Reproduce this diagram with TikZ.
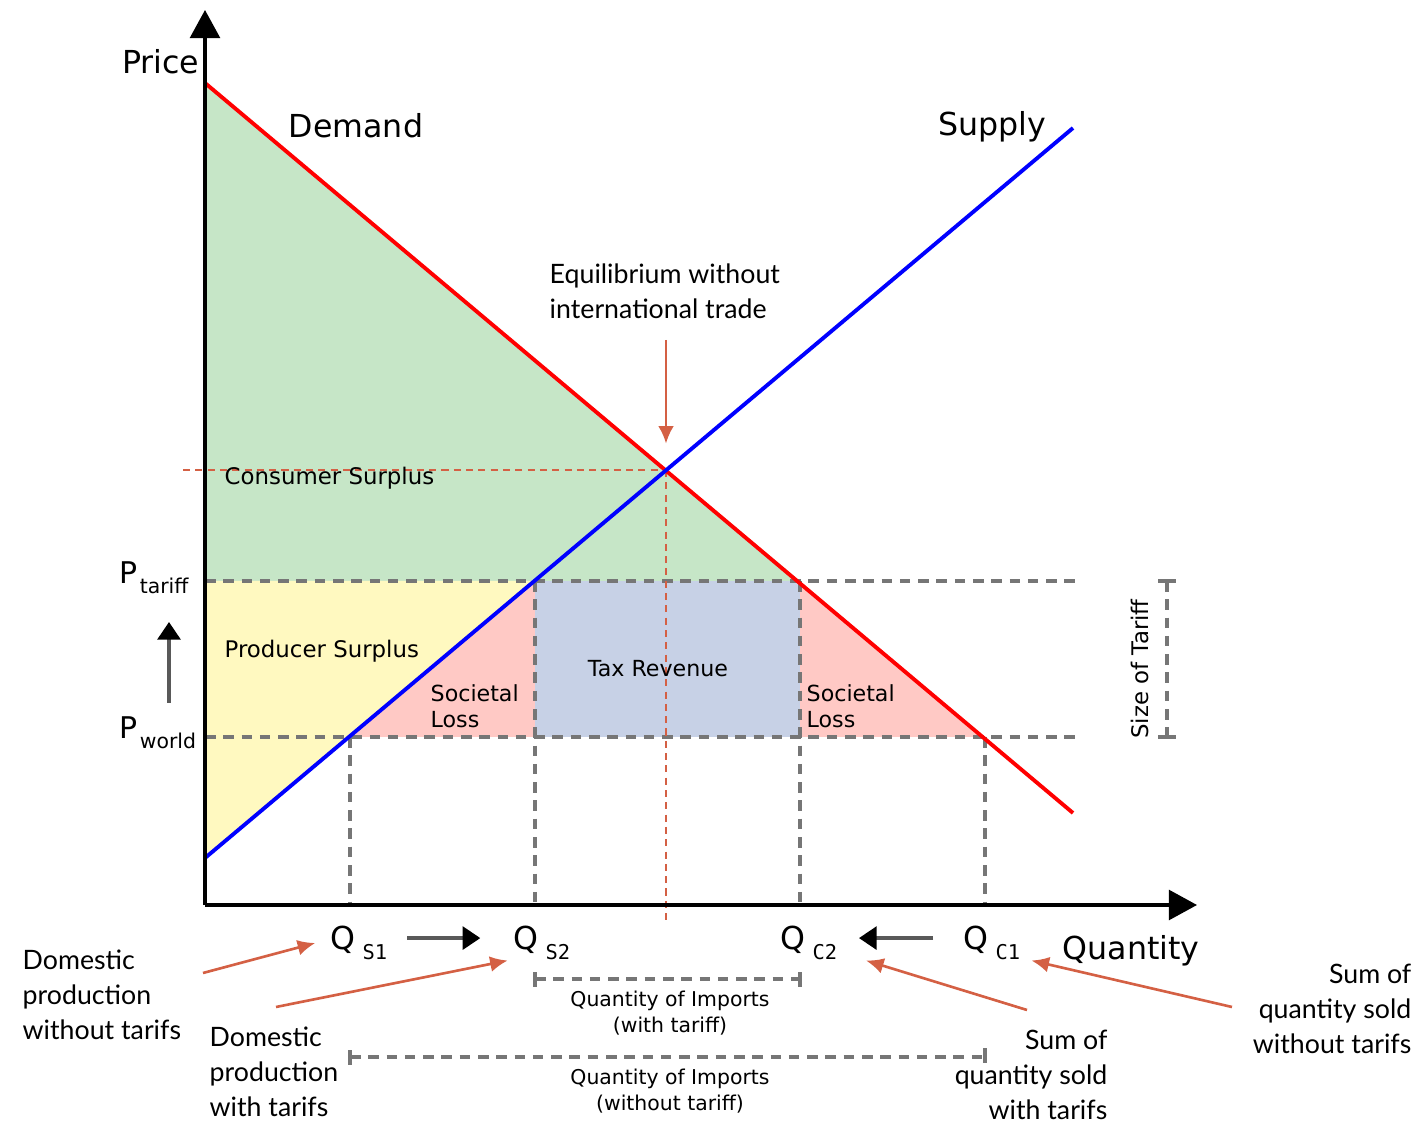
\documentclass[tikz,border=0pt]{standalone}
\usepackage{fontspec}
\setmainfont{DejaVu Sans}
\newfontfamily\notefont{Lato}
\newfontfamily\subfont{DejaVu Sans Mono}
\usetikzlibrary{arrows.meta,positioning}

\definecolor{csgreen}{RGB}{198,230,199}
\definecolor{psyellow}{RGB}{255,249,192}
\definecolor{losspink}{RGB}{255,201,197}
\definecolor{taxblue}{RGB}{199,209,230}
\definecolor{notered}{RGB}{212,96,68}
\definecolor{guidegray}{RGB}{118,118,118}

\newcommand{\bigtext}[1]{{\fontsize{9}{11}\selectfont #1}}
\newcommand{\Qlab}[1]{{\fontsize{9}{11}\selectfont Q}\hspace{2pt}\raisebox{-2.8pt}{\subfont\fontsize{5.8}{7}\selectfont #1}}
\newcommand{\Plab}[1]{{\fontsize{8.5}{10}\selectfont P}\hspace{0.6pt}\raisebox{-2.9pt}{\fontsize{5.8}{7}\selectfont #1}}

\begin{document}
\begin{tikzpicture}[x=0.01cm,y=-0.01cm,
    axis/.style={line width=0.9pt,-{Triangle[length=8pt,width=8.5pt]}},
    guide/.style={draw=guidegray,line width=1pt,dash pattern=on 3pt off 2.2pt},
    marker/.style={draw=notered,line width=0.4pt,dash pattern=on 2pt off 1.5pt},
    callout/.style={draw=notered,line width=0.75pt,-{Latex[length=5pt,width=4.5pt]}},
    shiftarrow/.style={draw=black!65,line width=0.9pt,-{Triangle[length=5pt,width=6.5pt,color=black]}},
    area/.style={inner sep=0pt,font=\fontsize{6.3}{7.4}\selectfont,align=left},
    note/.style={inner sep=0pt,font=\notefont\fontsize{7.6}{9.9}\selectfont}]
    \useasboundingbox (0,0) rectangle (1424,1122);

    % Key points
    \coordinate (O) at (205,905);
    \coordinate (E) at (666,470);
    \coordinate (A) at (350,737);
    \coordinate (B) at (535,581);
    \coordinate (C) at (800,581);
    \coordinate (F) at (985,737);

    % Surplus and loss areas
    \fill[csgreen] (205,83) -- (C) -- (205,581) -- cycle;
    \fill[psyellow] (205,581) -- (B) -- (205,858) -- cycle;
    \fill[losspink] (A) -- (B) -- (535,737) -- cycle;
    \fill[losspink] (C) -- (F) -- (800,737) -- cycle;
    \fill[taxblue] (B) rectangle (800,737);

    % Price levels and quantity drops
    \draw[guide] (205,581) -- (1075,581);
    \draw[guide] (205,737) -- (1075,737);
    \foreach \x in {535,800}
        \draw[guide] (\x,581) -- (\x,905);
    \foreach \x in {350,985}
        \draw[guide] (\x,737) -- (\x,905);

    % Equilibrium without trade
    \draw[marker] (183,470) -- (E);
    \draw[marker] (E) -- (666,925);

    % Demand and supply
    \draw[red,line width=1.1pt] (205,83) -- (1073,813);
    \draw[blue,line width=1.1pt] (205,858) -- (1073,128);

    % Axes
    \draw[axis] (O) -- (205,10);
    \draw[axis] (O) -- (1197,905);
    \node[inner sep=0pt,anchor=east] (price) at (200,62) {\bigtext{Price}};
    \node[inner sep=0pt] (qty) at (1131,951) {\bigtext{Quantity}};
    \node[inner sep=0pt] (dem) at (356,126) {\bigtext{Demand}};
    \node[inner sep=0pt] (sup) at (992,127) {\bigtext{Supply}};

    % Area labels
    \node[area,anchor=west,font=\fontsize{6.5}{7.5}\selectfont] (cs) at (224,478) {Consumer Surplus};
    \node[area,anchor=west,font=\fontsize{6.5}{7.5}\selectfont] (ps) at (224,651) {Producer Surplus};
    \node[area,anchor=west] (sl1) at (430,706) {Societal\\Loss};
    \node[area,anchor=west] (sl2) at (806,706) {Societal\\Loss};
    \node[area] (tax) at (658,669) {Tax Revenue};
    \node[area,rotate=90,font=\fontsize{6.5}{7.5}\selectfont] (size) at (1140,669) {Size of Tariff};

    % Size of tariff bracket
    \draw[guide] (1167,581) -- (1167,737);
    \draw[guidegray,line width=1pt] (1158,581) -- (1176,581) (1158,737) -- (1176,737);

    % Price and quantity labels
    \node[inner sep=0pt,anchor=west] (pt) at (119,578) {\Plab{tariff}};
    \node[inner sep=0pt,anchor=west] (pw) at (119,733) {\Plab{world}};
    \node[inner sep=0pt,anchor=west] (qs1) at (330,943) {\Qlab{S1}};
    \node[inner sep=0pt,anchor=west] (qs2) at (513,943) {\Qlab{S2}};
    \node[inner sep=0pt,anchor=west] (qc2) at (780,943) {\Qlab{C2}};
    \node[inner sep=0pt,anchor=west] (qc1) at (963,943) {\Qlab{C1}};

    % Shifts caused by the tariff
    \draw[shiftarrow] (169,703) -- (169,622);
    \draw[shiftarrow] ([shift={(5.5pt,1.4pt)}]qs1.east) -- ([shift={(-9.3pt,1.4pt)}]qs2.west);
    \draw[shiftarrow] ([shift={(-8.5pt,1.4pt)}]qc1.west) -- ([shift={(6pt,1.4pt)}]qc2.east);

    % Import brackets
    \draw[guide] (535,979) -- (800,979);
    \draw[guidegray,line width=1pt] (535,972) -- (535,987) (800,972) -- (800,987);
    \node[area,align=center,font=\fontsize{5.8}{7.4}\selectfont] (imp1) at (670,1013) {Quantity of Imports\\(with tariff)};
    \draw[guide] (350,1057) -- (985,1057);
    \draw[guidegray,line width=1pt] (350,1050) -- (350,1065) (985,1048) -- (985,1063);
    \node[area,align=center,font=\fontsize{5.8}{7.4}\selectfont] (imp2) at (670,1091) {Quantity of Imports\\(without tariff)};

    % Notes
    \node[note,anchor=west,align=left] (eq) at (549,291) {Equilibrium without\\international trade};
    \node[note,anchor=west,align=left] (dpw) at (22,995) {Domestic\\production\\without tarifs};
    \node[note,anchor=west,align=left] (dpt) at (209,1072) {Domestic\\production\\with tarifs};
    \node[note,anchor=east,align=right] (sqt) at (1108,1075) {Sum of\\quantity sold\\with tarifs};
    \node[note,anchor=east,align=right] (sqw) at (1412,1009) {Sum of\\quantity sold\\without tarifs};

    \coordinate (dpwtail) at (203,973);
    \coordinate (dpttail) at (276,1007);
    \coordinate (sqttail) at (1027,1010);
    \coordinate (sqwtail) at (1232,1007);
    \draw[callout] (666,340) -- ([yshift=7.5pt]E);
    \draw[callout] (dpwtail) -- ([xshift=-4.2pt]qs1.west);
    \draw[callout] (dpttail) -- ([xshift=-1.5pt]qs2.south west);
    \draw[callout] (sqttail) -- ([xshift=8pt]qc2.south east);
    \draw[callout] (sqwtail) -- ([xshift=3pt]qc1.south east);

\end{tikzpicture}
\end{document}
